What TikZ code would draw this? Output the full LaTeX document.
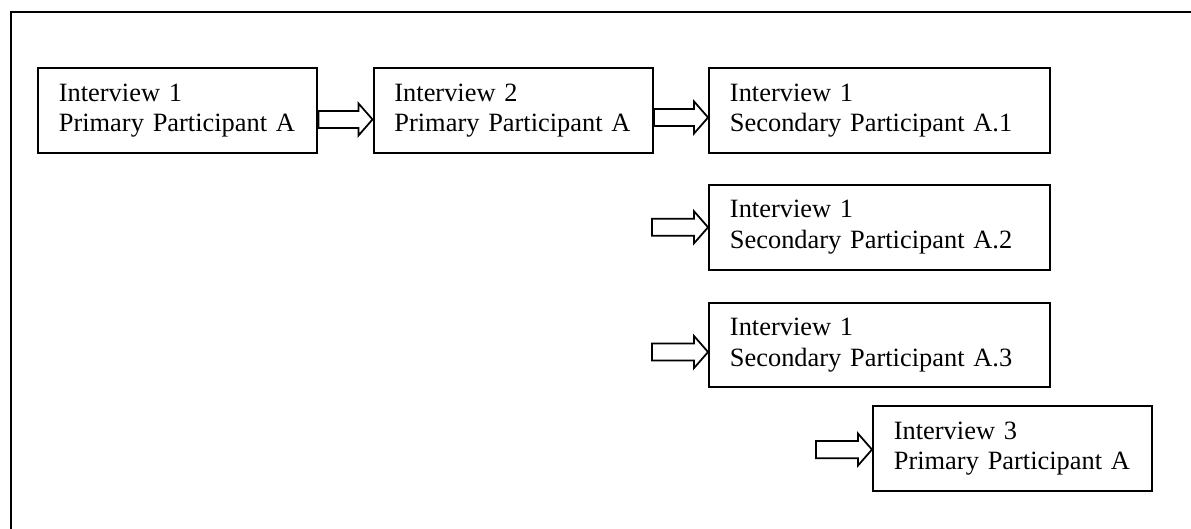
\documentclass[tikz,border=0pt]{standalone}
\usepackage{fontspec}
\setmainfont{Liberation Serif}
\usepackage{tikz}
\usetikzlibrary{positioning, calc}

% hollow block arrow from a start point to a tip
\newcommand{\flowarrow}[2]{%
  \draw[blockarr] let \p1=(#1), \p2=(#2) in
    (\x1,\y2+3.9pt) -- (\x2-6.4pt,\y2+3.9pt) -- (\x2-6.4pt,\y2+7.3pt) -- (\x2,\y2)
    -- (\x2-6.4pt,\y2-7.3pt) -- (\x2-6.4pt,\y2-3.9pt) -- (\x1,\y2-3.9pt) -- cycle;}

\begin{document}
\begin{tikzpicture}[
    x=0.4545pt, y=-0.4545pt,
    every node/.style={font=\fontsize{12pt}{13.8pt}\selectfont},
    interview/.style={rectangle, draw=black, line width=0.9pt, align=left, inner xsep=9.5pt, inner ysep=0pt, minimum height=38.6pt},
    primary/.style={interview, text width=108pt},
    secondary/.style={interview, text width=136pt},
    blockarr/.style={draw=black, line width=0.8pt, fill=white, line join=miter}
]
\useasboundingbox (0,0) rectangle (1191,529);

% outer frame (cut off at right and bottom)
\begin{scope}
\clip (0,0) rectangle (1191,529);
\draw[line width=0.9pt] (11,12) rectangle (1210,560);
\end{scope}

\node[primary, anchor=north west] (pa1) at (37,67) {Interview 1\\Primary Participant A};
\node[primary, right=24.6pt of pa1] (pa2) {Interview 2\\Primary Participant A};
\node[secondary, right=24.6pt of pa2] (sa1) {Interview 1\\Secondary Participant A.1};
\node[secondary, below=13.6pt of sa1] (sa2) {Interview 1\\Secondary Participant A.2};
\node[secondary, below=14pt of sa2] (sa3) {Interview 1\\Secondary Participant A.3};
\node[primary, anchor=north west] (pa3) at (872,405) {Interview 3\\Primary Participant A};

\coordinate (in2) at ([xshift=-25.5pt]sa2.west);
\coordinate (in3) at ([xshift=-25.5pt, yshift=-3.2pt]sa3.west);
\coordinate (in4) at ([xshift=-25.5pt, yshift=-0.5pt]pa3.west);

\flowarrow{[yshift=-4.1pt]pa1.east}{[yshift=-4.1pt]pa2.west}
\flowarrow{[yshift=-3.2pt]pa2.east}{[yshift=-3.2pt]sa1.west}
\flowarrow{in2}{sa2.west}
\flowarrow{in3}{[yshift=-3.2pt]sa3.west}
\flowarrow{in4}{[yshift=-0.5pt]pa3.west}

\end{tikzpicture}
\end{document}
